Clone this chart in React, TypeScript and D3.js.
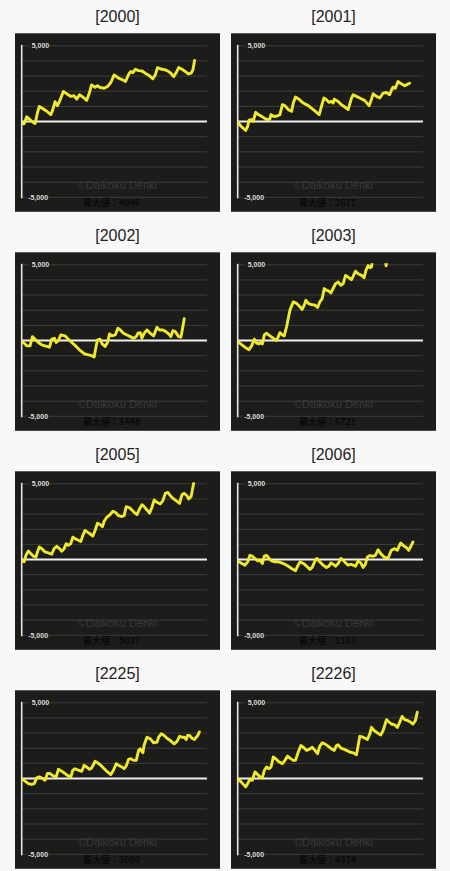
import React from "react";
import * as d3 from "d3";

type Pt = [number, number];

const titles = ["[2000]", "[2001]", "[2002]", "[2003]", "[2005]", "[2006]", "[2225]", "[2226]"];
const maxValues = ["4046", "2671", "1448", "6721", "5037", "1163", "3080", "4374"];
const gridValues = [5000, 4000, 3000, 2000, 1000, 0, -1000, -2000, -3000, -4000, -5000];
const tickLabels: [number, string][] = [[5000, "5,000"], [-5000, "-5,000"]];
const watermark = "©Daikoku Denki";
const maxLabel = "最大値：";

const s2000: Pt[] = [
  [0.4, -130], [1.3, -150], [2.7, 310], [4.1, 170], [5.4, 20], [7.2, -130], [8.5, 570], [9.5, 1000],
  [11.7, 830], [13.5, 680], [15.7, 460], [16.8, 790], [18.0, 1310], [19.3, 1050], [20.4, 1330], [22.5, 1990],
  [24.3, 1830], [26.5, 1660], [28.3, 1700], [29.7, 1480], [31.2, 1770], [33.0, 1620], [35.1, 1400], [36.6, 1920],
  [37.7, 2420], [39.6, 2270], [40.9, 2360], [42.3, 2250], [44.5, 2200], [46.3, 2310], [48.1, 2580], [49.9, 3080],
  [52.3, 2860], [54.6, 2750], [56.0, 2640], [57.8, 3140], [58.9, 3300], [60.0, 3230], [61.3, 3450], [63.1, 3360],
  [64.9, 3340], [66.7, 3190], [68.5, 3060], [70.8, 2820], [72.1, 3080], [73.3, 3560], [75.7, 3450], [77.5, 3410],
  [79.3, 3300], [80.5, 3190], [82.0, 2970], [83.4, 3230], [84.7, 3560], [86.5, 3450], [88.3, 3300], [90.1, 3140],
  [91.4, 3190], [92.4, 3410], [93.3, 4040],
];
const s2001: Pt[] = [
  [0, -40], [1.8, -310], [4.3, -590], [5.4, -310], [6.1, 90], [7.5, 130], [8.4, 20], [9.7, 610],
  [11.1, 460], [13.3, 310], [15.6, 130], [17.4, 170], [18.0, 460], [19.2, 350], [21.0, 350], [22.8, 460],
  [24.1, 1110], [25.5, 1050], [27.3, 790], [29.1, 680], [30.0, 1220], [31.2, 1620], [33.0, 1480], [35.4, 1220],
  [38.1, 1050], [40.8, 790], [44.0, 460], [45.2, 1000], [46.5, 1550], [47.9, 1440], [49.2, 1270], [50.6, 1330],
  [51.5, 1220], [52.1, 1480], [54.2, 1330], [56.0, 1110], [57.8, 960], [59.6, 790], [61.4, 1550], [62.3, 1770],
  [64.1, 1660], [65.9, 1550], [68.6, 1380], [70.9, 1050], [72.2, 1480], [73.1, 1830], [74.9, 1660], [76.7, 1550],
  [78.5, 1880], [80.3, 1920], [82.0, 1770], [82.9, 2050], [83.8, 2270], [85.1, 2200], [86.5, 2640], [88.3, 2490],
  [90.1, 2360], [91.0, 2420], [92.8, 2530],
];
const s2002: Pt[] = [
  [0, -70], [1.3, -170], [2.7, -350], [4.5, -350], [5.8, 260], [7.2, 90], [9.0, -130], [10.8, -280],
  [12.6, -350], [15.0, -440], [16.2, 90], [17.7, 150], [18.6, -130], [19.8, 0], [21.1, 370], [23.4, 310],
  [25.2, 90], [27.0, -130], [29.4, -390], [31.5, -650], [33.7, -870], [36.0, -940], [37.8, -1000], [39.1, -1090],
  [40.2, -350], [40.9, 40], [42.3, 90], [43.4, -220], [45.0, -390], [46.3, -130], [47.4, 440], [48.6, 310],
  [50.5, 370], [51.9, 810], [53.2, 700], [54.9, 480], [56.8, 370], [58.6, 260], [60.4, 150], [61.8, 260],
  [62.7, 480], [64.0, 520], [64.9, 150], [66.1, 480], [67.6, 700], [69.4, 480], [71.2, 310], [73.0, 870],
  [74.4, 700], [76.2, 700], [77.8, 590], [79.3, 440], [80.5, 260], [81.6, 650], [82.9, 590], [84.7, 260],
  [85.9, 220], [87.0, 920], [87.7, 1440],
];
const s2003: Pt[] = [
  [0, -70], [1.8, -240], [3.9, -440], [6.1, -610], [7.5, -350], [9.0, 90], [10.2, -170], [11.5, -220],
  [12.6, -130], [13.3, -220], [14.4, 370], [15.6, 480], [17.4, 310], [19.2, 150], [21.0, 0], [21.9, 260],
  [22.8, 520], [24.1, 370], [25.1, 310], [26.4, 920], [28.2, 2010], [30.0, 2550], [31.8, 2450], [33.6, 2230],
  [34.8, 2050], [35.9, 2340], [36.8, 2660], [38.1, 2450], [39.5, 2380], [41.7, 2340], [43.1, 2180], [44.3, 2550],
  [45.6, 2770], [46.7, 3430], [47.9, 3320], [49.2, 3270], [50.3, 3140], [51.0, 3320], [52.8, 3750], [54.2, 3860],
  [55.7, 3650], [56.9, 3750], [58.2, 4300], [59.6, 4190], [61.4, 4020], [62.3, 4240], [63.6, 4580], [65.0, 4410],
  [66.8, 4300], [68.2, 4150], [69.3, 4670], [70.4, 4950], [71.5, 4800], [72.2, 4850], [73.0, 5600], [75.8, 5900],
  [79.3, 5600], [80.1, 4930], [80.9, 5600], [83.8, 6200], [86.5, 6721], [89.2, 6300],
];
const s2005: Pt[] = [
  [0.4, -90], [1.3, -150], [2.3, 280], [3.6, 570], [4.9, 390], [6.3, 220], [7.7, 170], [8.5, 500],
  [9.5, 830], [10.8, 720], [12.6, 500], [14.4, 440], [16.2, 350], [17.5, 720], [18.9, 870], [20.4, 720],
  [21.6, 550], [22.9, 720], [24.0, 1050], [25.2, 940], [26.5, 1050], [27.6, 1480], [28.8, 1380], [30.6, 1270],
  [31.9, 1200], [33.0, 1590], [34.2, 1920], [35.5, 1810], [36.9, 1700], [38.4, 1550], [39.6, 1920], [40.9, 2400],
  [42.3, 2310], [43.6, 2180], [44.5, 2530], [45.9, 2790], [47.7, 2970], [49.2, 3190], [50.5, 3120], [52.3, 2900],
  [54.1, 2840], [55.3, 2900], [56.4, 3490], [57.7, 3450], [58.9, 3340], [60.7, 3120], [62.2, 2970], [63.6, 3340],
  [64.9, 3620], [66.1, 3490], [67.6, 3270], [69.0, 3060], [70.3, 3450], [71.5, 3930], [73.0, 3780], [74.8, 3670],
  [76.2, 3890], [77.5, 4370], [78.9, 4430], [80.2, 4210], [82.0, 4000], [83.8, 3840], [85.2, 3710], [86.5, 4280],
  [87.7, 4370], [89.2, 4210], [90.1, 4000], [91.4, 4150], [92.8, 5037],
];
const s2006: Pt[] = [
  [0, -90], [1.8, -220], [3.9, -370], [5.4, -150], [6.6, 280], [7.9, 220], [9.3, 70], [10.8, -90],
  [12.0, -40], [13.3, -260], [14.4, 220], [15.6, 280], [16.9, 70], [18.3, -90], [20.1, -150], [21.9, -150],
  [23.7, -220], [25.5, -310], [27.3, -440], [29.1, -590], [31.2, -740], [32.3, -440], [33.6, -150], [35.4, -260],
  [37.2, -440], [39.0, -650], [40.2, -520], [41.7, -90], [42.7, 70], [44.3, -150], [46.1, -370], [47.9, -520],
  [49.2, -440], [50.3, -220], [51.5, -310], [52.8, -440], [54.2, -260], [55.7, 70], [56.9, -40], [58.2, -220],
  [59.6, -370], [61.0, -310], [62.3, -370], [63.6, -440], [65.0, -90], [66.4, -220], [67.7, -520], [68.9, -310],
  [70.0, 170], [71.3, 260], [73.1, 220], [74.3, 280], [75.8, 650], [77.2, 390], [79.0, 170], [81.1, 70],
  [82.9, 610], [84.7, 720], [86.2, 610], [86.9, 830], [88.0, 1090], [89.2, 940], [91.0, 790], [92.3, 610],
  [93.4, 870], [94.6, 1163],
];
const s2225: Pt[] = [
  [0.4, -40], [1.8, -170], [3.6, -330], [5.4, -390], [6.8, -330], [8.1, 40], [9.5, 110], [11.4, 0],
  [12.6, -110], [13.9, 330], [15.3, 330], [17.1, 170], [18.6, 110], [19.8, 610], [21.6, 480], [23.4, 330],
  [25.2, 170], [26.5, 110], [27.6, 550], [28.8, 650], [30.6, 550], [32.4, 480], [33.7, 870], [35.1, 760],
  [36.6, 610], [37.8, 700], [39.6, 1140], [40.9, 1050], [42.7, 870], [44.5, 650], [45.9, 480], [48.1, 260],
  [49.5, 550], [51.0, 980], [52.3, 870], [54.1, 760], [55.3, 650], [56.4, 830], [57.7, 1270], [58.9, 1310],
  [60.4, 1200], [61.8, 1200], [63.1, 1860], [64.0, 1960], [65.4, 1700], [66.1, 2230], [67.6, 2730], [69.4, 2620],
  [71.2, 2360], [73.0, 2400], [73.9, 2730], [75.3, 2950], [76.9, 2840], [78.4, 2660], [80.2, 2510], [82.3, 2290],
  [83.8, 2450], [85.2, 2790], [86.5, 2730], [87.7, 2730], [88.8, 2580], [89.5, 2840], [90.6, 2840], [91.9, 2660],
  [93.2, 2580], [94.2, 2730], [95.0, 2840], [95.9, 3080],
];
const s2226: Pt[] = [
  [0, 0], [1.8, -220], [4.3, -550], [5.4, -330], [6.6, -40], [7.9, -110], [9.3, 440], [10.8, 260],
  [12.0, 110], [13.3, 40], [14.4, 550], [15.6, 760], [16.9, 650], [18.0, 760], [19.2, 1420], [20.5, 1310],
  [21.9, 1140], [24.1, 980], [25.5, 1200], [26.9, 1480], [28.2, 1350], [30.0, 1200], [31.2, 1200], [32.7, 1750],
  [34.1, 2180], [35.4, 2070], [37.2, 1860], [39.0, 1960], [40.2, 2070], [41.7, 1860], [43.1, 1640], [44.3, 2140],
  [45.6, 2360], [47.0, 2290], [48.8, 2140], [50.6, 1960], [52.1, 1860], [53.3, 2180], [54.2, 2230], [55.7, 2010],
  [56.9, 1960], [58.7, 1860], [60.5, 1750], [62.3, 1700], [64.1, 1570], [65.0, 2180], [65.9, 2790], [67.7, 2730],
  [70.0, 2580], [71.3, 2950], [72.2, 3380], [73.6, 3170], [75.4, 3010], [77.2, 2880], [78.5, 3170], [80.3, 3890],
  [81.5, 3750], [82.9, 3600], [84.7, 3540], [86.2, 3380], [87.4, 3710], [88.7, 4100], [90.1, 3890], [91.9, 3820],
  [93.4, 3710], [94.6, 3600], [95.9, 3820], [96.9, 4374],
];

const allSeries = [s2000, s2001, s2002, s2003, s2005, s2006, s2225, s2226];

const W = 450;
const H = 871;
const colLeft = [15, 231];
const rowTop0 = 33.3;
const rowPitch = 219;
const boxW = 205;
const boxH = 178.5;
const plotLeft = 6.7;
const plotRight = 192;
const plotTop = 12.5;
const plotBottom = 164;

function Panel({ idx }: { idx: number }) {
  const col = idx % 2;
  const row = Math.floor(idx / 2);
  const bx = colLeft[col];
  const by = rowTop0 + row * rowPitch;
  const x = d3.scaleLinear().domain([0, 100]).range([plotLeft, plotRight]);
  const y = d3.scaleLinear().domain([-5000, 5000]).range([plotBottom, plotTop]);
  const line = d3
    .line<Pt>()
    .x((d) => x(d[0]))
    .y((d) => y(d[1]))
    .curve(d3.curveLinear);
  const clipId = `clip-${idx}`;
  const cx = boxW / 2;
  return (
    <g transform={`translate(${bx},${by})`}>
      <text
        x={cx}
        y={-11.5}
        textAnchor="middle"
        fontFamily="'Liberation Sans', Arial, sans-serif"
        fontSize={16}
        fill="#222"
      >
        {titles[idx]}
      </text>
      <rect x={0} y={0} width={boxW} height={boxH} fill="#1c1c1b" />
      <defs>
        <clipPath id={clipId}>
          <rect x={plotLeft} y={y(5000) - 1.5} width={plotRight - plotLeft + 6} height={y(-5000) - y(5000) + 3} />
        </clipPath>
      </defs>
      {gridValues.map((v) => (
        <line
          key={v}
          x1={x(0)}
          x2={x(100)}
          y1={y(v)}
          y2={y(v)}
          stroke={v === 0 ? "#eeeeee" : "#3d3d3b"}
          strokeWidth={v === 0 ? 2 : 1}
        />
      ))}
      <line x1={x(0)} x2={x(0)} y1={y(5000) - 1} y2={y(-5000) + 1} stroke="#e6e6e6" strokeWidth={1.6} />
      {tickLabels.map(([v, t]) => (
        <g key={v}>
          <rect x={x(0) + (v < 0 ? 5 : 8)} y={y(v) - 3.5} width={v < 0 ? 20 : 18} height={7} fill="#1c1c1b" />
          <text
            x={x(0) + (v < 0 ? 6.5 : 10)}
            y={y(v) + 2.5}
            fontFamily="'Liberation Sans', Arial, sans-serif"
            fontSize={7}
            fontWeight="bold"
            fill="#dcdcdc"
          >
            {t}
          </text>
        </g>
      ))}
      <text
        x={cx}
        y={boxH - 22.5}
        textAnchor="middle"
        fontFamily="'Liberation Sans', Arial, sans-serif"
        fontSize={11}
        fill="#3a3a39"
      >
        {watermark}
      </text>
      <text
        x={cx - 6}
        y={boxH - 5.8}
        textAnchor="middle"
        fontFamily="'Noto Sans CJK JP', sans-serif"
        fontSize={9}
        fontWeight="bold"
        fill="#0a0a0a"
      >
        {maxLabel + maxValues[idx]}
      </text>
      <g clipPath={`url(#${clipId})`}>
        <path
          d={line(allSeries[idx]) || ""}
          fill="none"
          stroke="#f0ea2c"
          strokeWidth={2.9}
          strokeLinejoin="round"
          strokeLinecap="round"
        />
      </g>
    </g>
  );
}

export default function App() {
  return (
    <svg
      width={W}
      height={H}
      viewBox={`0 0 ${W} ${H}`}
      style={{ position: "absolute", left: 0, top: 0, display: "block" }}
    >
      <rect x={0} y={0} width={W} height={H} fill="#f8f8f8" />
      {titles.map((_, i) => (
        <Panel key={i} idx={i} />
      ))}
    </svg>
  );
}
